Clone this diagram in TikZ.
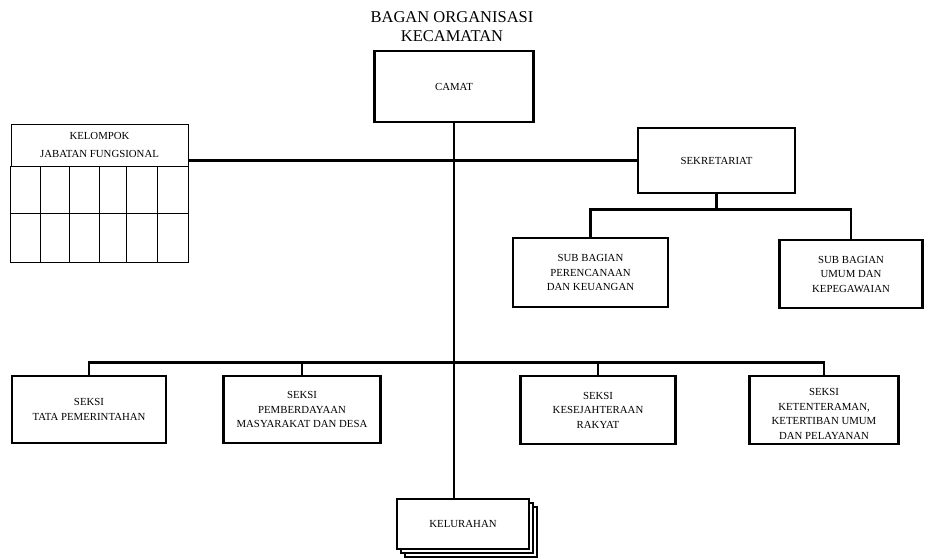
\documentclass[tikz,border=0pt]{standalone}
\usepackage{fontspec}
\setmainfont{Liberation Serif}
\usetikzlibrary{calc,shadows}

\begin{document}
\begin{tikzpicture}[x=1pt,y=1pt,
		boxfont/.style={font=\fontsize{10.8}{14.5}\selectfont},
		box/.style={draw, line width=2.8pt, align=center, inner sep=2pt, boxfont},
		conn/.style={line width=2.3pt},
		grid/.style={line width=0.8pt}]
		\useasboundingbox (0,0) rectangle (925,-558);
		\node[align=center, font=\fontsize{16.5}{19}\selectfont] (title) at (452,-27) {BAGAN ORGANISASI\\KECAMATAN};
		\node[box, minimum width=159, minimum height=71] (camat) at (454,-86.5) {CAMAT};
		\node[box, minimum width=157, minimum height=65] (sekre) at (716.5,-160.5) {SEKRETARIAT};
		\node[box, minimum width=155, minimum height=69] (subA) at (590.5,-272.5) {SUB BAGIAN\\PERENCANAAN\\DAN KEUANGAN};
		\node[box, minimum width=143, minimum height=68] (subB) at (851,-274) {SUB BAGIAN\\UMUM DAN\\KEPEGAWAIAN};
		\node[box, minimum width=154, minimum height=67] (seksiA) at (89,-409.5) {SEKSI\\TATA PEMERINTAHAN};
		\node[box, minimum width=157, minimum height=67] (seksiB) at (302,-409.5) {SEKSI\\PEMBERDAYAAN\\MASYARAKAT DAN DESA};
		\node[box, minimum width=155, minimum height=68] (seksiC) at (598,-410) {SEKSI\\KESEJAHTERAAN\\RAKYAT};
		\node[box, minimum width=149, minimum height=68,
			label={[align=center, boxfont, yshift=-4pt]center:SEKSI\\KETENTERAMAN,\\KETERTIBAN UMUM\\DAN PELAYANAN}] (seksiD) at (824,-410) {};
		\node[box, fill=white, minimum width=132, minimum height=50,
			double copy shadow={shadow xshift=4pt, shadow yshift=-4pt, draw, line width=2.8pt}] (kel) at (463,-524) {KELURAHAN};
		\node[draw, grid, minimum width=177, minimum height=42, align=center, boxfont] (kelompok) at (99.5,-145) {KELOMPOK\\[4pt]JABATAN FUNGSIONAL};
		\draw[grid] (kelompok.south west) rectangle ($(kelompok.south east)+(0,-96)$);
		\draw[grid] ($(kelompok.south west)+(0,-47)$) -- ($(kelompok.south east)+(0,-47)$);
		\foreach \gx in {40,69,99,126,157}
			\draw[grid] (\gx,-166) -- (\gx,-262);
		\draw[conn] (camat.south) -- (camat.south |- kel.north);
		\draw[conn] (sekre.west) -- (sekre.west -| kelompok.east);
		\draw[conn] (sekre.south) -- ++(0,-15) coordinate (sbar);
		\draw[conn] (subA.north) |- (sbar) -| (subB.north);
		\coordinate (bar) at ($(camat.south |- seksiA.north)+(0,12)$);
		\draw[conn] (seksiA.north) |- (bar) -| (seksiD.north);
		\draw[conn] (seksiB.north) -- (seksiB.north |- bar);
		\draw[conn] (seksiC.north) -- (seksiC.north |- bar);
\end{tikzpicture}
\end{document}
